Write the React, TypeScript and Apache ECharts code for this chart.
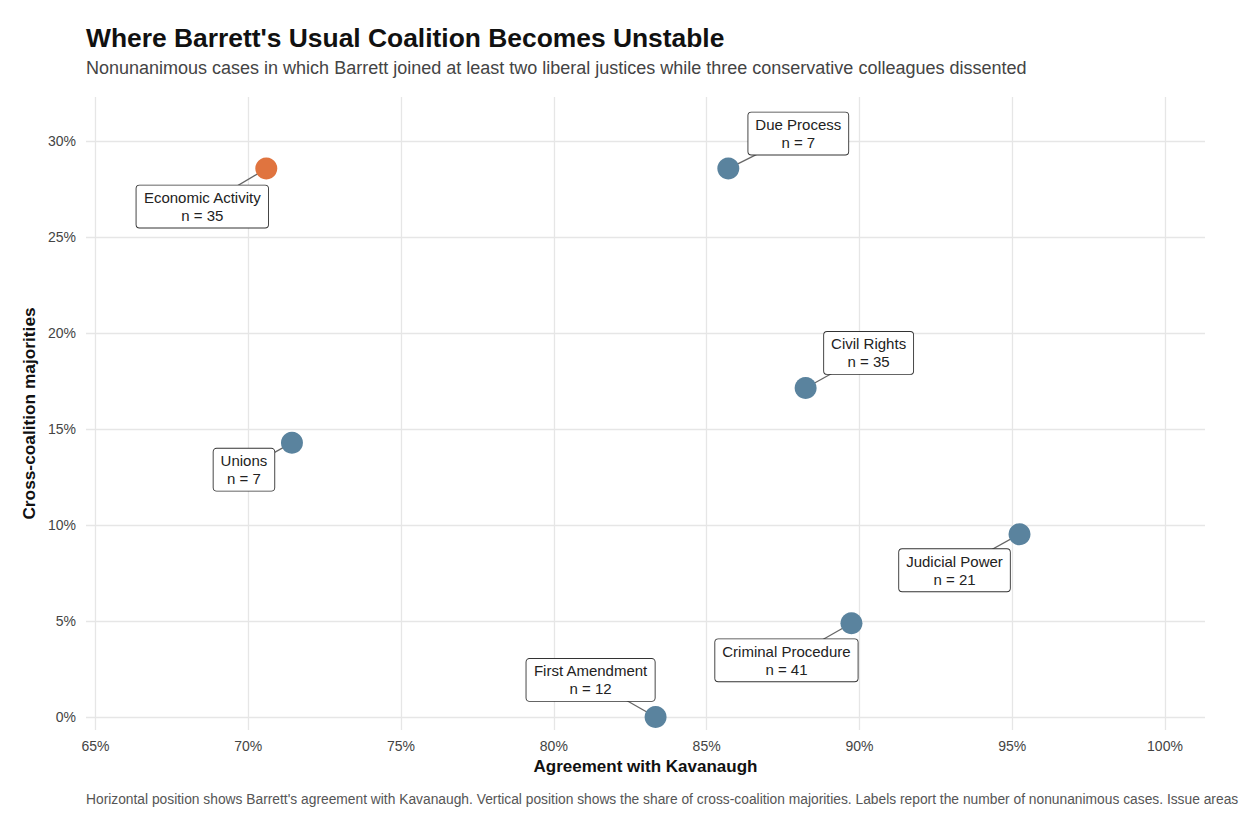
import React, { useEffect, useRef } from "react";
import * as echarts from "echarts";

const issues = ["Economic Activity", "Due Process", "Civil Rights", "Unions", "Judicial Power", "Criminal Procedure", "First Amendment"];
const agreement = [0.7059, 0.8571, 0.8824, 0.7143, 0.9524, 0.8974, 0.8333];
const crossShare = [0.2857, 0.2857, 0.1714, 0.1429, 0.0952, 0.0488, 0.0];
const caseCounts = [35, 7, 35, 7, 21, 41, 12];
const highlighted = [true, false, false, false, false, false, false];
const labelOffsets: [number, number][] = [
  [-64, 38],
  [70, -35],
  [63, -35],
  [-48, 27],
  [-65, 36],
  [-65, 37],
  [-65, -37],
];
const xTicks = [0.65, 0.7, 0.75, 0.8, 0.85, 0.9, 0.95, 1.0];
const yTicks = [0, 0.05, 0.1, 0.15, 0.2, 0.25, 0.3];

const FONT = "'Liberation Sans', Arial, Helvetica, sans-serif";
const R = 11;

export default function App() {
  const ref = useRef<HTMLDivElement>(null);
  useEffect(() => {
    if (!ref.current) return;
    const chart = echarts.init(ref.current, null, { renderer: "svg" });
    const data = issues.map((name, i) => ({
      name,
      value: [agreement[i], crossShare[i], caseCounts[i]],
      itemStyle: { color: highlighted[i] ? "#E0743F" : "#5A839E", opacity: 1 },
    }));
    const connectorData = issues.map((name, i) => [agreement[i], crossShare[i], i]);
    chart.setOption({
      animation: false,
      backgroundColor: "#ffffff",
      textStyle: { fontFamily: FONT },
      title: [
        {
          text: "Where Barrett's Usual Coalition Becomes Unstable",
          left: 81,
          top: 20,
          textStyle: { fontSize: 26.4, fontWeight: "bold", color: "#111", fontFamily: FONT },
        },
        {
          text: "Nonunanimous cases in which Barrett joined at least two liberal justices while three conservative colleagues dissented",
          left: 81,
          top: 54,
          textStyle: { fontSize: 18, fontWeight: "normal", color: "#444", fontFamily: FONT },
        },
      ],
      grid: { left: 86, right: 43, top: 97, bottom: 102, containLabel: false },
      xAxis: {
        type: "value",
        min: 0.6469,
        max: 1.0131,
        name: "Agreement with Kavanaugh",
        nameLocation: "middle",
        nameGap: 26,
        nameTextStyle: { fontSize: 17, fontWeight: "bold", color: "#111", fontFamily: FONT },
        axisLine: { show: false },
        axisTick: { show: false, customValues: xTicks },
        axisLabel: {
          customValues: xTicks,
          formatter: (v: number) => Math.round(v * 100) + "%",
          fontSize: 14,
          color: "#444",
          margin: 9,
          fontFamily: FONT,
        },
        splitLine: { show: true, lineStyle: { color: "#e6e6e6", width: 1.3 } },
      },
      yAxis: {
        type: "value",
        min: -0.0068,
        max: 0.323,
        name: "Cross-coalition majorities",
        nameLocation: "middle",
        nameGap: 48,
        nameTextStyle: { fontSize: 17.3, fontWeight: "bold", color: "#111", fontFamily: FONT },
        axisLine: { show: false },
        axisTick: { show: false, customValues: yTicks },
        axisLabel: {
          customValues: yTicks,
          formatter: (v: number) => Math.round(v * 100) + "%",
          fontSize: 14,
          color: "#444",
          margin: 10,
          fontFamily: FONT,
        },
        splitLine: { show: true, lineStyle: { color: "#e6e6e6", width: 1.3 } },
      },
      series: [
        {
          type: "custom",
          z: 1,
          silent: true,
          data: connectorData,
          renderItem: (params: any, api: any) => {
            const idx = api.value(2);
            const p = api.coord([api.value(0), api.value(1)]);
            const [dx, dy] = labelOffsets[idx];
            return {
              type: "line",
              shape: { x1: p[0], y1: p[1], x2: p[0] + dx, y2: p[1] + dy },
              style: { stroke: "#666", lineWidth: 1.3 },
            };
          },
        },
        {
          type: "scatter",
          z: 2,
          data,
          symbolSize: 2 * R,
          label: {
            show: true,
            position: "inside",
            formatter: (p: any) => `${p.name}\nn = ${p.value[2]}`,
            backgroundColor: "#ffffff",
            borderColor: "#333",
            borderWidth: 0.9,
            borderRadius: 3,
            padding: [3, 7, 3, 7],
            fontSize: 15,
            lineHeight: 18,
            color: "#222",
            align: "center",
            fontFamily: FONT,
          },
          labelLine: { show: false },
          labelLayout: (p: any) => ({ dx: labelOffsets[p.dataIndex][0], dy: labelOffsets[p.dataIndex][1] }),
        },
      ],
      graphic: [
        {
          type: "text",
          left: 86,
          top: 792,
          style: {
            text:
              "Horizontal position shows Barrett's agreement with Kavanaugh. Vertical position shows the share of cross-coalition majorities. Labels report the number of nonunanimous cases. Issue areas",
            fontSize: 13.8,
            fill: "#555",
            fontFamily: FONT,
          },
        },
      ],
    });
    return () => chart.dispose();
  }, []);
  return <div ref={ref} style={{ position: "fixed", left: 0, top: 0, width: 1248, height: 832 }} />;
}
